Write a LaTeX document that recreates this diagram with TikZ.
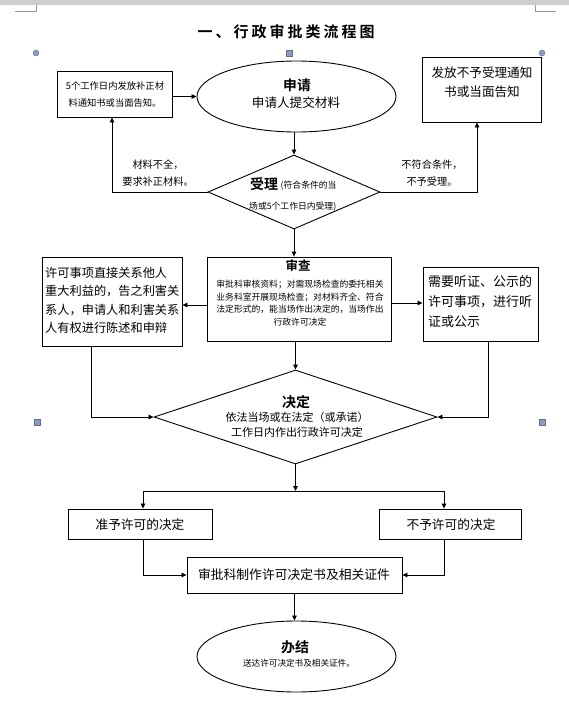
\documentclass[tikz,border=0pt]{standalone}
\usepackage{fontspec}
\setmainfont{Noto Sans CJK SC}[BoldFont={Noto Sans CJK SC Bold}]
\usetikzlibrary{arrows.meta,shapes.geometric}
\definecolor{hfill}{RGB}{140,156,186}
\definecolor{hdraw}{RGB}{95,112,145}
\definecolor{barcol}{RGB}{205,205,210}
\definecolor{cornercol}{RGB}{150,150,150}
\begin{document}
\begin{tikzpicture}[x=1pt,y=-1pt,
  box/.style={draw,line width=0.9pt,inner sep=0pt},
  oval/.style={draw,ellipse,line width=0.9pt,inner sep=0pt,minimum width=199pt,minimum height=71pt},
  dia/.style={draw,diamond,line width=0.9pt,inner sep=0pt},
  txt/.style={inner sep=0pt,align=center},
  flow/.style={-{Triangle[length=5pt,width=4.5pt]},line width=0.8pt},
  handle/.style={fill=hfill,draw=hdraw,line width=0.4pt}]
\useasboundingbox (0,0) rectangle (569,724);
\fill[white] (0,0) rectangle (569,724);
% page decorations
\fill[barcol] (0,0) rectangle (569,5);
\draw[cornercol,line width=0.7pt] (36.5,5) -- (36.5,11) -- (14.5,11);
\draw[cornercol,line width=0.7pt] (535,5) -- (535,11) -- (556,11);
% selection handles
\draw[handle] (36,53) circle (3pt);
\draw[handle] (542,53) circle (3pt);
\draw[handle] (286,50) rectangle (292,56);
\draw[handle] (34,419) rectangle (40,425);
\draw[handle] (539,419) rectangle (545,425);
% title
\node[txt,font=\bfseries\fontsize{15}{15}\selectfont\addfontfeature{LetterSpace=20}] (title) at (286,32) {一、行政审批类流程图};
% top row
\node[box,minimum width=115pt,minimum height=46pt] (bz) at (114.5,94) {};
\node[txt,font=\fontsize{9.3}{17}\selectfont] (bzt) at (115,94.5) {5个工作日内发放补正材\\料通知书或当面告知。};
\node[oval] (sq) at (296.5,96.5) {};
\node[txt,font=\bfseries\fontsize{13.8}{13.8}\selectfont] (sqt) at (297,85) {申请};
\node[txt,font=\fontsize{12.6}{12.6}\selectfont] (sqs) at (296,103) {申请人提交材料};
\node[box,minimum width=119pt,minimum height=65pt] (nb) at (481.5,89.5) {};
\node[txt,font=\fontsize{12.6}{19}\selectfont] (nbt) at (482,82.5) {发放不予受理通知\\书或当面告知};
% acceptance diamond
\node[dia,minimum width=172pt,minimum height=74pt] (sl) at (294,192) {};
\node[txt,anchor=west,font=\bfseries\fontsize{14}{14}\selectfont] (slt) at (250,184) {受理};
\node[txt,anchor=west,font=\fontsize{8.8}{8.8}\selectfont] (sls1) at (280.5,185.5) {(符合条件的当};
\node[txt,anchor=west,font=\fontsize{8.8}{8.8}\selectfont] (sls2) at (249,207) {场或5个工作日内受理)};
\node[txt,font=\fontsize{10.2}{17}\selectfont] (l1) at (158,173.5) {材料不全，\\要求补正材料。};
\node[txt,font=\fontsize{10.2}{17}\selectfont] (l2) at (432,173.5) {不符合条件，\\不予受理。};
\draw[flow] (bz.east |- sq.west) -- (sq.west);
\draw[flow] (sl.north |- sq.south) -- (sl.north);
\draw[flow] (sl.west) -| ([xshift=-2.5pt]bz.south);
\draw[flow] (sl.east) -| ([xshift=-4.5pt]nb.south);
% review row
\node[box,minimum width=184pt,minimum height=84pt] (sc) at (299,299) {};
\node[txt,font=\bfseries\fontsize{12.5}{12.5}\selectfont] (sct) at (298,266) {审查};
\node[txt,font=\fontsize{8.8}{12.5}\selectfont] (scs) at (300,303) {审批科审核资料；对需现场检查的委托相关\\业务科室开展现场检查；对材料齐全、符合\\法定形式的，能当场作出决定的，当场作出\\行政许可决定};
\node[box,minimum width=140pt,minimum height=89pt] (lb) at (112,301.5) {};
\node[txt,align=left,anchor=west,font=\fontsize{12.2}{18.4}\selectfont] (lbt) at (45,300.5) {许可事项直接关系他人\\重大利益的，告之利害关\\系人，申请人和利害关系\\人有权进行陈述和申辩};
\node[box,minimum width=115pt,minimum height=74pt] (rb) at (480.5,304) {};
\node[txt,align=left,anchor=west,font=\fontsize{13}{20}\selectfont] (rbt) at (428,302) {需要听证、公示的\\许可事项，进行听\\证或公示};
\draw[flow] (sl.south) -- (sl.south |- sc.north);
\draw[flow] ([yshift=-6pt]sc.west) -- ([yshift=-6pt]sc.west -| lb.east);
\draw[flow] ([yshift=-4pt]sc.east) -- ([yshift=-4pt]sc.east -| rb.west);
% decision diamond
\node[dia,minimum width=283pt,minimum height=94pt] (jd) at (295.5,417) {};
\node[txt,font=\bfseries\fontsize{14}{14}\selectfont] (jdt) at (296,402) {决定};
\node[txt,font=\fontsize{11}{15}\selectfont] (jds) at (297,424.5) {依法当场或在法定（或承诺）\\工作日内作出行政许可决定};
\draw[flow] (jd.north |- sc.south) -- (jd.north);
\draw[flow] ([xshift=-21pt]lb.south) |- (jd.west);
\draw[flow] ([xshift=7.5pt]rb.south) |- (jd.east);
% outcomes
\coordinate (jn) at (295.5,491);
\node[box,minimum width=144pt,minimum height=30pt] (zy) at (140,524) {};
\node[txt,font=\fontsize{12.7}{12.7}\selectfont] (zyt) at (140,525) {准予许可的决定};
\node[box,minimum width=142pt,minimum height=30pt] (by) at (450,524) {};
\node[txt,font=\fontsize{12.7}{12.7}\selectfont] (byt) at (451,525) {不予许可的决定};
\node[box,minimum width=215pt,minimum height=36pt] (zz) at (294.5,575) {};
\node[txt,font=\fontsize{12.8}{12.8}\selectfont] (zzt) at (294,575) {审批科制作许可决定书及相关证件};
\draw[flow] (jd.south) -- (jn);
\draw[flow] (jn) -| ([xshift=3pt]zy.north);
\draw[flow] (jn) -| ([xshift=-6pt]by.north);
\draw[flow] ([xshift=3pt]zy.south) |- (zz.west);
\draw[flow] ([xshift=-6pt]by.south) |- (zz.east);
% finish
\node[oval] (bj) at (296.5,656.5) {};
\node[txt,font=\bfseries\fontsize{14}{14}\selectfont] (bjt) at (295,647) {办结};
\node[txt,font=\fontsize{8.6}{8.6}\selectfont] (bjs) at (299,663) {送达许可决定书及相关证件。};
\draw[flow] (zz.south) -- (zz.south |- bj.north);
\end{tikzpicture}
\end{document}
